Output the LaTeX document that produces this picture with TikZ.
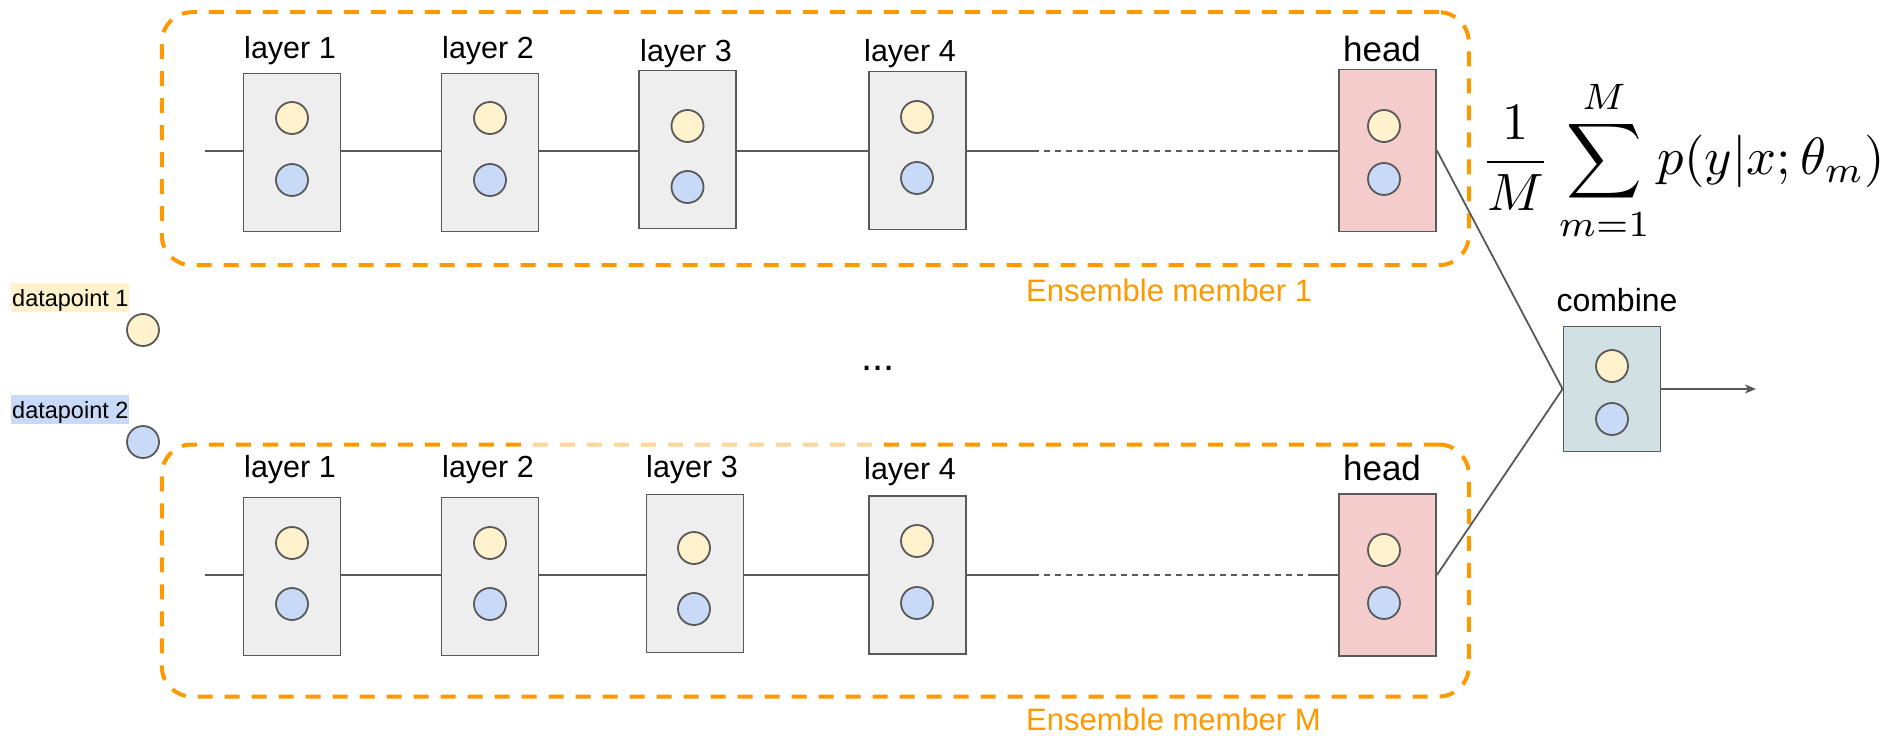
\documentclass[tikz,border=0pt]{standalone}
\usepackage[no-math]{fontspec}
\setmainfont{Liberation Sans}
\usetikzlibrary{arrows.meta}

\definecolor{edge}{HTML}{595959}
\definecolor{boxgray}{HTML}{EEEEEE}
\definecolor{headpink}{HTML}{F4CCCC}
\definecolor{combteal}{HTML}{D0E0E3}
\definecolor{dotyellow}{HTML}{FFF2CC}
\definecolor{dotblue}{HTML}{C9DAF8}
\definecolor{ensorange}{HTML}{FF9900}

\tikzset{
  wire/.style={draw=edge, line width=1.8pt},
  fineddash/.style={wire, line width=1.6pt, dash pattern=on 6pt off 5pt},
  layerbox/.style={draw=edge, line width=1.8pt, fill=boxgray, inner sep=0pt,
                   minimum width=97pt, minimum height=158pt},
  headbox/.style={layerbox, fill=headpink, minimum height=162pt},
  combbox/.style={layerbox, fill=combteal, minimum height=125pt},
  dot/.style={circle, draw=edge, line width=1.8pt, minimum size=32pt, inner sep=0pt},
  ydot/.style={dot, fill=dotyellow},
  bdot/.style={dot, fill=dotblue},
  lbl/.style={font=\fontsize{30.5}{36}\selectfont, inner sep=0pt, anchor=base},
  headlbl/.style={lbl, font=\fontsize{35}{40}\selectfont},
  member/.style={draw=ensorange, line width=4pt, dash pattern=on 15pt off 12pt,
                 rounded corners=30pt, inner sep=0pt},
  memberlbl/.style={font=\fontsize{31}{36}\selectfont, text=ensorange, inner sep=0pt, anchor=base west},
  dplbl/.style={font=\fontsize{23.5}{28}\selectfont, inner xsep=1pt, inner ysep=0pt,
                text height=22.7pt, text depth=6.3pt, anchor=base west},
}

\begin{document}
\begin{tikzpicture}[x=1pt, y=-1pt]
\useasboundingbox (0,0) rectangle (1888,736);

% ensemble member frames
\node[member, minimum width=1307pt, minimum height=253pt] (m1) at (815.3,138.7) {};
\node[member, minimum width=1307pt, minimum height=252pt] (mM) at (815.3,570.5) {};
% faded stretch of the lower frame
\fill[white, opacity=0.6] (528,438) rectangle (872,451);

% datapoints
\node[dplbl, fill=dotyellow] (dp1) at (11,306) {datapoint 1};
\node[dplbl, fill=dotblue] (dp2) at (11,418) {datapoint 2};
\node[ydot] (dp1c) at (143,330) {};
\node[bdot] (dp2c) at (143,442) {};

% ---------- member 1 ----------
\node[layerbox] (t1) at (292,152.5) {};
\node[layerbox] (t2) at (490,152.5) {};
\node[layerbox] (t3) at (687.5,149.5) {};
\node[layerbox] (t4) at (917.5,150.5) {};
\node[headbox]  (th) at (1387.5,150.5) {};

\node[ydot] at (292,118) {};   \node[bdot] at (292,180) {};
\node[ydot] at (490,118) {};   \node[bdot] at (490,180) {};
\node[ydot] at (687.5,126) {}; \node[bdot] at (687.5,187) {};
\node[ydot] at (917,117) {};   \node[bdot] at (917,178) {};
\node[ydot] at (1384,126) {};  \node[bdot] at (1384,179) {};

\node[lbl] at (290,58) {layer 1};
\node[lbl] at (488,58) {layer 2};
\node[lbl] at (686,61) {layer 3};
\node[lbl] at (910,61) {layer 4};
\node[headlbl] at (1382,61) {head};

\coordinate (ts) at (204.5,151);
\coordinate (td) at (1033,151);
\coordinate (te) at (1311,151);
\draw[wire] (ts) -- (t1.west |- ts);
\draw[wire] (t1.east |- ts) -- (t2.west |- ts);
\draw[wire] (t2.east |- ts) -- (t3.west |- ts);
\draw[wire] (t3.east |- ts) -- (t4.west |- ts);
\draw[wire] (t4.east |- ts) -- (td);
\draw[fineddash] (td) -- (te);
\draw[wire] (te) -- (th.west |- te);

\node[memberlbl] (l1) at (1026,301) {Ensemble member 1};

% ---------- member M ----------
\node[layerbox] (b1) at (292,576.5) {};
\node[layerbox] (b2) at (490,576.5) {};
\node[layerbox] (b3) at (695,573.5) {};
\node[layerbox] (b4) at (917.5,575) {};
\node[headbox]  (bh) at (1387.5,575) {};

\node[ydot] at (292,543) {};   \node[bdot] at (292,604) {};
\node[ydot] at (490,543) {};   \node[bdot] at (490,604) {};
\node[ydot] at (694,548) {};   \node[bdot] at (694,609) {};
\node[ydot] at (917,541) {};   \node[bdot] at (917,603) {};
\node[ydot] at (1384,550) {};  \node[bdot] at (1384,603) {};

\node[lbl] at (290,477) {layer 1};
\node[lbl] at (488,477) {layer 2};
\node[lbl] at (692,477) {layer 3};
\node[lbl] at (910,479) {layer 4};
\node[headlbl] at (1382,480) {head};

\coordinate (bs) at (204.5,575);
\coordinate (bd) at (1033,575);
\coordinate (be) at (1311,575);
\draw[wire] (bs) -- (b1.west |- bs);
\draw[wire] (b1.east |- bs) -- (b2.west |- bs);
\draw[wire] (b2.east |- bs) -- (b3.west |- bs);
\draw[wire] (b3.east |- bs) -- (b4.west |- bs);
\draw[wire] (b4.east |- bs) -- (bd);
\draw[fineddash] (bd) -- (be);
\draw[wire] (be) -- (bh.west |- be);

\node[memberlbl] (lM) at (1026,730) {Ensemble member M};

% ellipsis between members
\node[lbl, font=\fontsize{40}{44}\selectfont] (more) at (878,370) {...};

% ---------- combine ----------
\node[combbox] (comb) at (1612,389) {};
\node[ydot] at (1612,366) {};
\node[bdot] at (1612,419) {};
\node[lbl, font=\fontsize{32}{38}\selectfont] at (1617,311) {combine};
\coordinate (out) at (1756,389);

\draw[wire] (th.east) -- (comb.west);
\draw[wire] (bh.east) -- (comb.west);
\draw[wire, -{Stealth[length=11pt, width=9pt, inset=3pt]}] (comb.east) -- (out);

% averaged prediction
\node[inner sep=0pt] (eq) at (1683,160)
  {\scalebox{5.25}{$\displaystyle \frac{1}{M}\sum_{m=1}^{M} p(y|x;\theta_m)$}};
\end{tikzpicture}
\end{document}
